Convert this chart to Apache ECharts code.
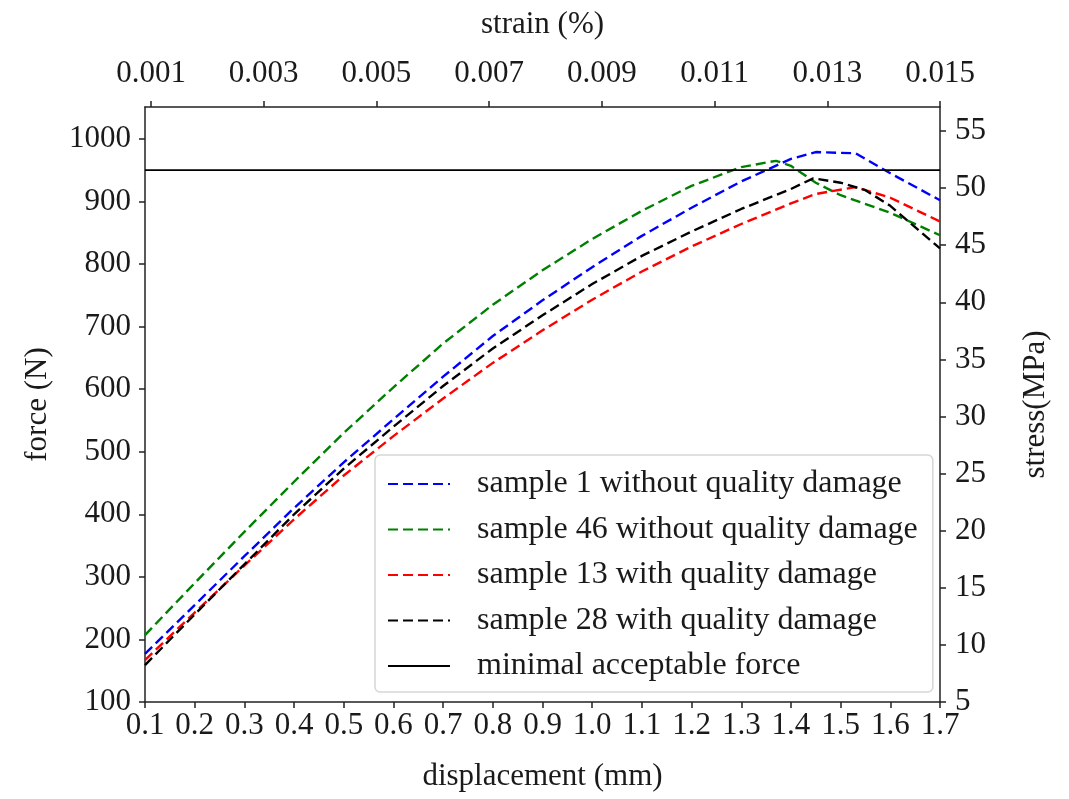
<!DOCTYPE html>
<html>
<head>
<meta charset="utf-8">
<script src="https://cdn.jsdelivr.net/npm/echarts@6/dist/echarts.min.js"></script>
<style>
html,body{margin:0;padding:0;background:#fff;}
#chart{width:1069px;height:799px;}
</style>
</head>
<body>
<div id="chart"></div>
<script>
// ---- data (displacement mm, force N) ----
const seriesNames = [
  'sample 1 without quality damage',
  'sample 46 without quality damage',
  'sample 13 with quality damage',
  'sample 28 with quality damage',
  'minimal acceptable force'
];
const sample1 = [[0.1,177],[0.2,255],[0.3,333],[0.4,410],[0.5,483],[0.6,552],[0.7,620],[0.8,685],[0.9,742],[1.0,795],[1.1,845],[1.2,890],[1.3,932],[1.4,968],[1.45,979],[1.53,977],[1.6,945],[1.7,902]];
const sample46 = [[0.1,207],[0.2,290],[0.3,372],[0.4,452],[0.5,530],[0.6,603],[0.7,673],[0.8,735],[0.9,790],[1.0,840],[1.1,885],[1.2,925],[1.3,955],[1.37,965],[1.4,957],[1.45,930],[1.5,910],[1.6,882],[1.7,846]];
const sample13 = [[0.1,167],[0.2,243],[0.3,318],[0.4,392],[0.5,462],[0.6,525],[0.7,585],[0.8,642],[0.9,694],[1.0,743],[1.1,788],[1.2,828],[1.3,864],[1.4,897],[1.45,912],[1.53,923],[1.6,906],[1.7,868]];
const sample28 = [[0.1,159],[0.2,240],[0.3,320],[0.4,400],[0.5,473],[0.6,540],[0.7,605],[0.8,665],[0.9,718],[1.0,768],[1.1,813],[1.2,852],[1.3,888],[1.4,920],[1.445,937],[1.5,930],[1.55,918],[1.6,893],[1.7,825]];
const minimalForce = [[0.1,950],[1.7,950]];
const strainTicks = [0.001,0.003,0.005,0.007,0.009,0.011,0.013,0.015];
const stressTicks = [5,10,15,20,25,30,35,40,45,50,55];
const forceTicks = [100,200,300,400,500,600,700,800,900,1000];

const FONT = "'Liberation Serif','DejaVu Serif',serif";
const TXT = '#1a1a1a';
const AX = {lineStyle:{color:'#222',width:1.5}};
const chart = echarts.init(document.getElementById('chart'));
const dash = [10,5];
function lineSeries(name, data, color, dashed){
  return {
    name:name, type:'line', data:data, xAxisIndex:0, yAxisIndex:0,
    symbol:'none', showSymbol:false, smooth:false, animation:false,
    lineStyle:{color:color,width:2.4,type: dashed?dash:'solid'},
    itemStyle:{color:color},
    z: 3
  };
}
chart.setOption({
  backgroundColor:'#fff',
  animation:false,
  textStyle:{fontFamily:FONT},
  grid:{left:145,right:129,top:107,bottom:97,containLabel:false},
  legend:{
    orient:'vertical', left:375, top:455,
    padding:[13,15,10,12],
    itemGap:13.5,
    itemWidth:62, itemHeight:27,
    backgroundColor:'#fff',
    borderColor:'#d6d6d6', borderWidth:1.5, borderRadius:5,
    itemStyle:{opacity:0},
    textStyle:{fontFamily:FONT,fontSize:32,color:TXT,padding:[0,0,0,22]},
    data:seriesNames
  },
  xAxis:[
    {type:'value',position:'bottom',min:0.1,max:1.7,interval:0.1,
     name:'displacement (mm)',nameLocation:'middle',nameGap:59,
     nameTextStyle:{fontFamily:FONT,fontSize:31,color:TXT},
     axisLine:AX,axisTick:{show:true,length:6,lineStyle:{color:'#222',width:1.5}},
     axisLabel:{fontFamily:FONT,fontSize:31,color:TXT,margin:8,formatter:v=>v.toFixed(1)},
     splitLine:{show:false}},
    {type:'value',position:'top',min:0.000893,max:0.015,
     name:'strain (%)',nameLocation:'middle',nameGap:67,
     nameTextStyle:{fontFamily:FONT,fontSize:31,color:TXT},
     axisLine:AX,
     axisTick:{show:true,length:6,customValues:strainTicks,lineStyle:{color:'#222',width:1.5}},
     axisLabel:{fontFamily:FONT,fontSize:31,color:TXT,margin:18,customValues:strainTicks,formatter:v=>v.toFixed(3)},
     splitLine:{show:false}}
  ],
  yAxis:[
    {type:'value',position:'left',min:100,max:1051,
     name:'force (N)',nameLocation:'middle',nameGap:92,nameRotate:90,
     nameTextStyle:{fontFamily:FONT,fontSize:31,color:TXT},
     axisLine:AX,
     axisTick:{show:true,length:6,customValues:forceTicks,lineStyle:{color:'#222',width:1.5}},
     axisLabel:{fontFamily:FONT,fontSize:31,color:TXT,margin:14,customValues:forceTicks,formatter:v=>String(v)},
     splitLine:{show:false}},
    {type:'value',position:'right',min:5,max:57.1,
     name:'stress(MPa)',nameLocation:'middle',nameGap:80,nameRotate:90,
     nameTextStyle:{fontFamily:FONT,fontSize:31,color:TXT},
     axisLine:AX,
     axisTick:{show:true,length:6,customValues:stressTicks,lineStyle:{color:'#222',width:1.5}},
     axisLabel:{fontFamily:FONT,fontSize:31,color:TXT,margin:15,customValues:stressTicks,formatter:v=>String(v)},
     splitLine:{show:false}}
  ],
  series:[
    lineSeries(seriesNames[0], sample1, '#0000ff', true),
    lineSeries(seriesNames[1], sample46, '#008000', true),
    lineSeries(seriesNames[2], sample13, '#ff0000', true),
    lineSeries(seriesNames[3], sample28, '#000000', true),
    Object.assign(lineSeries(seriesNames[4], minimalForce, '#000000', false),{lineStyle:{color:'#000',width:1.8,type:'solid'}})
  ]
});
</script>
</body>
</html>
